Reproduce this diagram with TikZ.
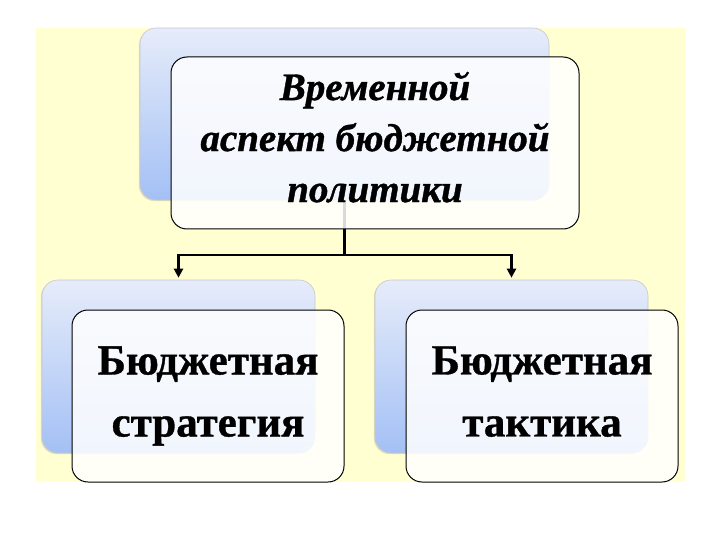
\documentclass[tikz,border=0pt]{standalone}
\usepackage{fontspec}
\setmainfont{Liberation Serif}
\usetikzlibrary{arrows.meta,shadows}
\definecolor{bgyellow}{HTML}{FFFFD2}
\definecolor{bluetop}{HTML}{E6ECFA}
\definecolor{bluebot}{HTML}{A3C0F5}
\begin{document}
\begin{tikzpicture}[x=1pt,y=-1pt,
  backbox/.style={draw=black!22, line width=0.6pt, rounded corners=16pt,
    top color=bluetop, bottom color=bluebot, inner sep=0pt,
    drop shadow={shadow xshift=-1.2pt, shadow yshift=-1.2pt, opacity=0.25}},
  frontbox/.style={draw=black, line width=1pt, rounded corners=16pt,
    fill=white, fill opacity=0.85, text opacity=1, inner sep=0pt, align=center},
  conn/.style={line width=2.4pt, black},
  tip/.style={-{Triangle[length=9pt,width=9pt]}},
  toptext/.style={font=\fontsize{39}{51}\selectfont\bfseries\itshape\addfontfeature{FakeBold=1}},
  bottext/.style={font=\fontsize{43}{62}\selectfont\bfseries\addfontfeature{FakeBold=0.8}},
]
\useasboundingbox (0,0) rectangle (720,540);
\fill[bgyellow] (36,28) rectangle (685,482);
% back boxes
\node[backbox, minimum width=409pt, minimum height=172pt] (tb) at (344.5,114) {};
\node[backbox, minimum width=273pt, minimum height=173pt] (lb) at (178.5,366.5) {};
\node[backbox, minimum width=273pt, minimum height=173pt] (rb) at (511.5,366.5) {};
% connectors
\coordinate (j) at (344.5,255);
\draw[conn] (tb.south) -- (j);
\draw[conn,tip] (j) -| ([yshift=2pt]lb.north);
\draw[conn,tip] (j) -| ([yshift=2pt]rb.north);
% front boxes
\node[frontbox, toptext, minimum width=408pt, minimum height=172pt] (tf) at (375,143)
  {Временной\\аспект бюджетной\\политики\\[-39pt]\mbox{}};
\node[frontbox, bottext, minimum width=272pt, minimum height=172pt] (lf) at (208,396)
  {Бюджетная\\стратегия};
\node[frontbox, bottext, minimum width=272pt, minimum height=172pt] (rf) at (542,396)
  {Бюджетная\\\vphantom{у}тактика};
\end{tikzpicture}
\end{document}
